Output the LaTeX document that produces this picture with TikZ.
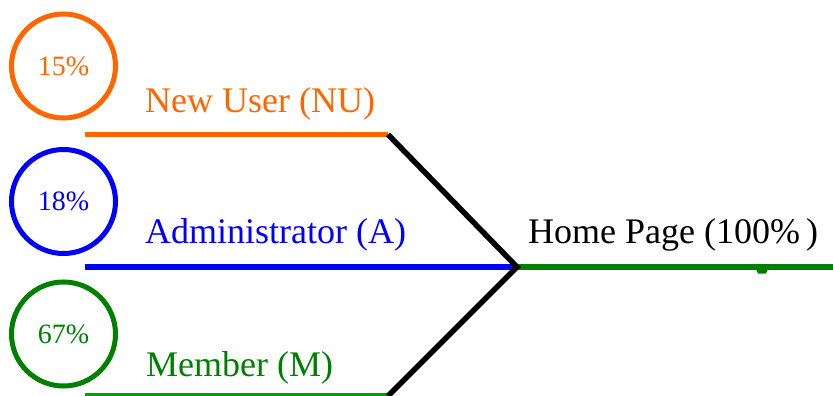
\documentclass[tikz,border=0pt]{standalone}
\usepackage{fontspec}
\setmainfont{Liberation Serif}
\definecolor{nuorange}{RGB}{255,102,0}
\definecolor{adblue}{RGB}{0,0,255}
\definecolor{memgreen}{RGB}{0,128,0}
\definecolor{memline}{RGB}{0,160,0}
\tikzset{
  pct/.style={circle, draw=#1, line width=5pt, minimum size=104pt, inner sep=0pt,
              text=#1, font=\fontsize{28}{30}\selectfont},
  role/.style={anchor=base west, inner sep=0pt, text=#1, font=\fontsize{36}{40}\selectfont},
  branch/.style={line width=5.5pt, draw=#1},
  joint/.style={line width=5.5pt, draw=black, line join=miter},
}
\begin{document}
\begin{tikzpicture}[x=1pt, y=-1pt]
  \useasboundingbox (0,0) rectangle (833,396);
  % share circles
  \node[pct=nuorange] (cNU) at (63.5,66) {15\%};
  \node[pct=adblue] (cA) at (63.5,201.5) {18\%};
  \node[pct=memgreen] (cM) at (63.5,334) {67\%};
  % role labels
  \node[role=nuorange] (tNU) at (145,112) {New User (NU)};
  \node[role=adblue] (tA) at (145,243.3) {Administrator (A)};
  \node[role=memgreen] (tM) at (146,376.7) {Member (M)};
  \node[role=black] (tHP) at (528,243.3) {Home Page (100\%\,)};
  % branch points
  \coordinate (nuL) at (85,134.5);
  \coordinate (nuR) at (388,134.5);
  \coordinate (aL) at (85,267);
  \coordinate (hub) at (517,267);
  \coordinate (mL) at (85,396);
  \coordinate (mR) at (388,396);
  \coordinate (hpR) at (833,267);
  % flows
  \draw[branch=nuorange] (nuL) -- (nuR);
  \draw[branch=adblue] (aL) -- (hub);
  \draw[branch=memline] (mL) -- (mR);
  \draw[branch=memgreen] (hub) -- (hpR);
  \draw[joint] (nuR) -- (hub) -- (mR);
  \fill[memgreen] (756,269) -- (768,269) -- (766,273.5) -- (758,273.5) -- cycle;
\end{tikzpicture}
\end{document}
